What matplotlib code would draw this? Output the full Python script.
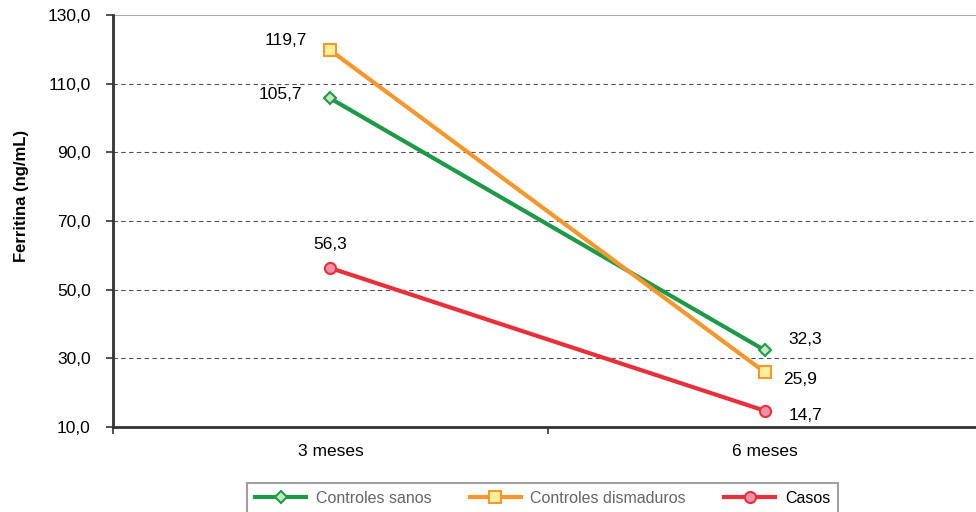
import numpy as np
import matplotlib
matplotlib.use('Agg')
import matplotlib.pyplot as plt

plt.rcParams['font.family'] = ['Liberation Sans', 'DejaVu Sans']

categories = ['3 meses', '6 meses']
sanos = [105.7, 32.3]
dismaduros = [119.7, 25.9]
casos = [56.3, 14.7]
series_names = ['Controles sanos', 'Controles dismaduros', 'Casos']
yticks = [10, 30, 50, 70, 90, 110, 130]


def fmt(v):
    return ('%.1f' % v).replace('.', ',')


fig = plt.figure(figsize=(9.76, 5.12), dpi=100)
ax = fig.add_axes([113/976, 1-427/512, 869.5/976, 412/512])

x = np.arange(len(categories))

l1, = ax.plot(x, sanos, color='#1d9a48', lw=3, marker='D', ms=6,
              mfc='#c9e6c0', mec='#1d9a48', mew=1.5, zorder=3)
l2, = ax.plot(x, dismaduros, color='#f7962a', lw=3, marker='s', ms=9,
              mfc='#fbef9e', mec='#f7962a', mew=1.5, zorder=3)
l3, = ax.plot(x, casos, color='#e9303a', lw=3, marker='o', ms=8,
              mfc='#ef8fa8', mec='#e9303a', mew=1.5, zorder=3)

# value labels next to each point
fs = 12.5
offsets = {
    'sanos': [(-36, 3), (29, 8)],
    'dismaduros': [(-32, 7), (25, -5)],
    'casos': [(0, 17), (29, -3)],
}
for key, vals in [('sanos', sanos), ('dismaduros', dismaduros), ('casos', casos)]:
    for i, v in enumerate(vals):
        ax.annotate(fmt(v), (x[i], v), xytext=offsets[key][i], textcoords='offset points',
                    ha='center', va='center', fontsize=fs)

ax.set_xlim(-0.5, 1.5)
ax.set_ylim(10, 130)
ax.set_yticks(yticks)
ax.set_yticklabels([fmt(v) for v in yticks], fontsize=fs)
ax.set_xticks([-0.5, 0.5, 1.5])
ax.set_xticklabels([])
ax.set_xticks(x, minor=True)
ax.set_xticklabels(categories, minor=True, fontsize=fs)
ax.tick_params(axis='x', which='minor', length=0, pad=12)
ax.tick_params(axis='x', which='major', length=5, width=1.2, color='#333333', direction='out')
ax.tick_params(axis='y', length=5, width=1.2, color='#333333', direction='out', pad=11)

for v in yticks[1:-1]:
    ax.axhline(v, color='#555555', lw=0.8, ls=(0, (4, 3)), zorder=1)
ax.axhline(130, color='#aaaaaa', lw=1.5, zorder=1)

for s in ['top', 'right']:
    ax.spines[s].set_visible(False)
ax.spines['left'].set_color('#333333')
ax.spines['left'].set_linewidth(2)
ax.spines['bottom'].set_color('#333333')
ax.spines['bottom'].set_linewidth(2)

ax.set_ylabel('Ferritina (ng/mL)', fontsize=12, fontweight='bold')
ax.yaxis.set_label_coords(-0.097, 0.56)

leg = fig.legend([l1, l2, l3], series_names, loc='upper left',
                 bbox_to_anchor=(247/976, 1-483/512), borderaxespad=0, ncol=3, fontsize=11.5,
                 handlelength=3.2, handletextpad=0.6, columnspacing=2.4, frameon=True,
                 fancybox=False, borderpad=0.5, edgecolor='#888888')
leg.get_frame().set_linewidth(1.5)
for t, c in zip(leg.get_texts(), ['#666666', '#666666', '#000000']):
    t.set_color(c)

plt.savefig('out.png', dpi=100)
